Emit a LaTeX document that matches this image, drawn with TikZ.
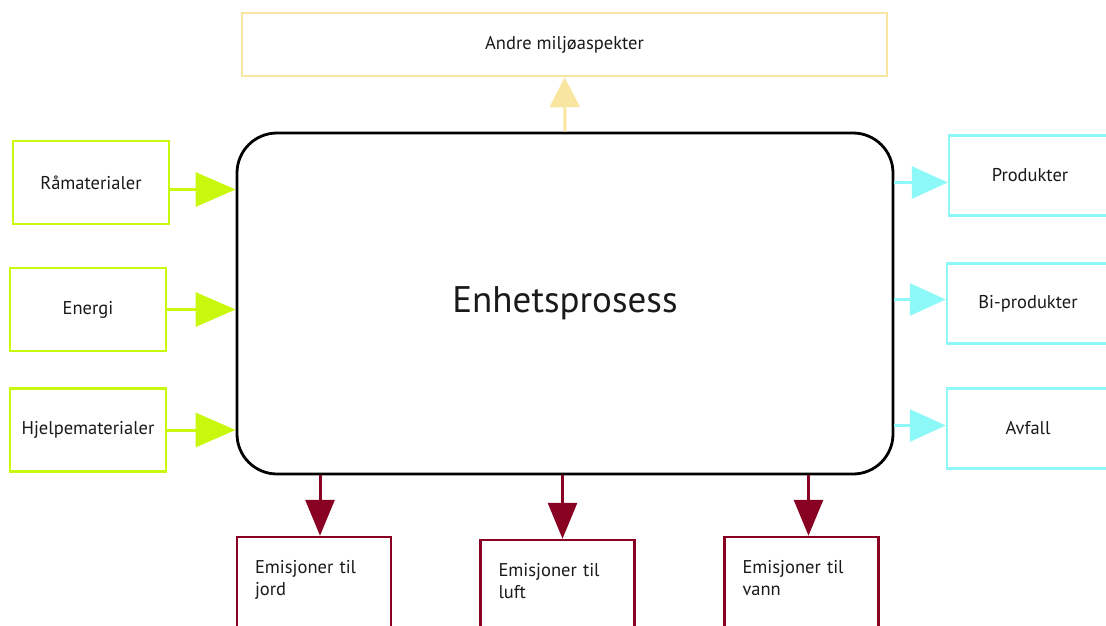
\documentclass[tikz,border=0pt]{standalone}
\usepackage{fontspec}
\setmainfont{PT Sans}
\usetikzlibrary{arrows.meta,positioning}
\definecolor{inngreen}{HTML}{C8F80C}
\definecolor{utcyan}{HTML}{8CF8F8}
\definecolor{andreyellow}{HTML}{F8E6A0}
\definecolor{emisred}{HTML}{880022}
\definecolor{tekst}{HTML}{1A1A1A}

\begin{document}
\begin{tikzpicture}[x=1pt, y=-1pt,
    box/.style={draw, line width=2.5pt, fill=white, text=tekst, inner sep=0pt,
      font=\fontsize{18.5}{22}\selectfont},
    inn/.style={box, draw=inngreen, minimum width=156pt, minimum height=83pt},
    ut/.style={box, draw=utcyan, minimum width=162pt, minimum height=80pt},
    emis/.style={box, draw=emisred, minimum width=154pt, minimum height=104pt,
      text width=118pt, align=left, text depth=44pt},
    innpil/.style={draw=inngreen, line width=3pt, -{Triangle[length=40pt, width=34pt]}},
    utpil/.style={draw=utcyan, line width=3pt, -{Triangle[length=36pt, width=32pt]}},
    emispil/.style={draw=emisred, line width=3pt, -{Triangle[length=36pt, width=29pt]}},
    andrepil/.style={draw=andreyellow, line width=3pt, -{Triangle[length=30pt, width=30pt]}}]
    \useasboundingbox (0,0) rectangle (1106,626);

    % prosessen
    \node[draw, line width=2.8pt, rounded corners=40pt, minimum width=656pt, minimum height=341pt,
      text=tekst, font=\fontsize{37}{44}\selectfont] (prosess) at (565,303.5) {Enhetsprosess};
    \node[box, draw=andreyellow, minimum width=645pt, minimum height=63pt] (andre) at (564.5,44.5) {Andre miljøaspekter};

    % inn
    \node[inn] (ramat) at (91,182.5) {Råmaterialer};
    \node[inn] (energi) at (88,309.5) {Energi};
    \node[inn] (hjelpemat) at (88,430) {Hjelpematerialer};

    % ut
    \node[ut] (produkter) at (1030,175.5) {Produkter};
    \node[ut] (biprod) at (1028,303.5) {Bi-produkter};
    \node[ut] (avfall) at (1028,428.5) {Avfall};

    % emisjoner
    \node[emis] (jord) at (314,589) {Emisjoner til\\jord};
    \node[emis] (luft) at (557.5,592) {Emisjoner til\\luft};
    \node[emis] (vann) at (801.5,589) {Emisjoner til\\vann};

    \draw[andrepil] (prosess.north) -- (andre.south);

    \draw[innpil] ([yshift=-7pt]ramat.east) -- ([yshift=-7pt]ramat.east -| prosess.west);
    \draw[innpil] (energi.east) -- (energi.east -| prosess.west);
    \draw[innpil] (hjelpemat.east) -- (hjelpemat.east -| prosess.west);

    \draw[utpil] ([yshift=-7pt]produkter.west -| prosess.east) -- ([yshift=-7pt]produkter.west);
    \draw[utpil] ([yshift=4pt]biprod.west -| prosess.east) -- ([yshift=4pt]biprod.west);
    \draw[utpil] ([yshift=3pt]avfall.west -| prosess.east) -- ([yshift=3pt]avfall.west);

    \draw[emispil] ([xshift=6pt]jord.north |- prosess.south) -- ([xshift=6pt]jord.north);
    \draw[emispil] ([xshift=5pt]luft.north |- prosess.south) -- ([xshift=5pt]luft.north);
    \draw[emispil] ([xshift=7pt]vann.north |- prosess.south) -- ([xshift=7pt]vann.north);
\end{tikzpicture}
\end{document}
